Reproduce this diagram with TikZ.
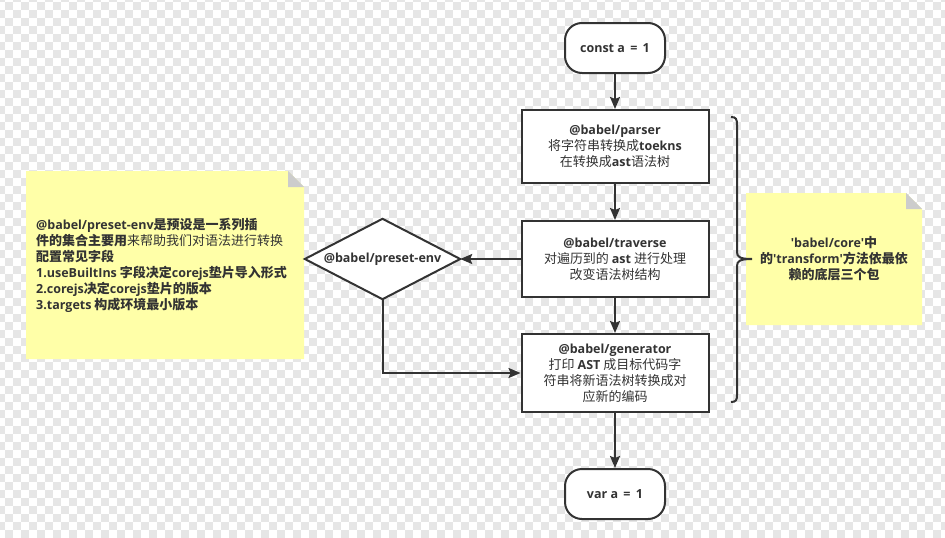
\documentclass[tikz,border=0pt]{standalone}
\usepackage{fontspec}
\setmainfont{Noto Sans CJK SC}[Ligatures=TeXOff]
\newfontfamily\latf{Open Sans}[Ligatures=TeXOff]
\usetikzlibrary{arrows.meta}
\definecolor{ink}{HTML}{333333}
\definecolor{chk}{HTML}{E6E6E6}
\definecolor{noteyel}{HTML}{FFFFA8}
\definecolor{fold}{HTML}{CCCCCC}
\newcommand\lat[1]{{\latf\bfseries\fontsize{12.5}{16}\selectfont #1}}
\tikzset{
  base/.style={draw=ink, line width=2pt, fill=white, inner sep=0pt, align=center, text=ink,
    font=\fontsize{13}{16}\selectfont},
  term/.style={base, rounded corners=17pt, minimum width=100pt, minimum height=50pt},
  procbox/.style={base, minimum width=187pt, minimum height=76pt},
  decide/.style={inner sep=0pt, align=center, text=ink, font=\fontsize{13}{16}\selectfont,
    minimum width=155pt, minimum height=80pt},
  arr/.style={draw=ink, line width=2pt, -{Stealth[length=12pt,width=10pt,inset=2pt]}},
  notetext/.style={text=ink, inner sep=0pt, font=\fontsize{13}{16}\selectfont\bfseries},
}
\begin{document}
\begin{tikzpicture}[x=1pt,y=-1pt]
\useasboundingbox (0,0) rectangle (945,538);
\begin{scope}
\clip (0,0) rectangle (945,538);
\foreach \j in {-1,...,67}{
  \pgfmathsetmacro\yc{6+8*\j}
  \pgfmathsetmacro\ph{mod(\j+1,2)*8}
  \draw[chk, line width=8pt, dash pattern=on 8pt off 8pt, dash phase=\ph pt] (-3,\yc) -- (950,\yc);
}
\end{scope}

% notes
\fill[noteyel] (26,171) -- (288,171) -- (304,187) -- (304,359) -- (26,359) -- cycle;
\fill[fold] (288,171) -- (288,187) -- (304,187) -- cycle;
\fill[noteyel] (746,193) -- (906,193) -- (922,209) -- (922,325) -- (746,325) -- cycle;
\fill[fold] (906,193) -- (906,209) -- (922,209) -- cycle;

\node[notetext, anchor=west, align=left] (leftnote) at (36,265.5)
  {\lat{@babel/preset-env}是预设是一系列插\\件的集合主要用{\mdseries 来帮助我们对语法进行转换}\\配置常见字段\\\lat{1.useBuiltIns} 字段决定\lat{corejs}垫片导入形式\\\lat{2.corejs}决定\lat{corejs}垫片的版本\\\lat{3.targets} 构成环境最小版本};
\node[notetext, align=center] (rightnote) at (834,259)
  {\lat{'babel/core'}中\\的\lat{'transform'}方法依最依\\赖的底层三个包};

% flow
\node[term] (c1) at (615,48) {\lat{const a \,=\, 1}};
\node[procbox, minimum height=73pt] (p) at (615,146.5) {\lat{@babel/parser}\\将字符串转换成\lat{toekns}\\在转换成\lat{ast}语法树};
\node[procbox] (t) at (615,259) {\lat{@babel/traverse}\\对遍历到的 \lat{ast} 进行处理\\改变语法树结构};
\node[procbox, minimum height=78pt] (g) at (615,373) {\lat{@babel/generator}\\打印 \lat{AST} 成目标代码字\\符串将新语法树转换成对\\应新的编码};
\node[term] (v) at (615,494) {\lat{var a \,=\, 1}};
\node[decide] (d) at (382.5,259) {};
\draw[ink, line width=2pt, fill=white, line join=miter] (d.north) -- (d.east) -- (d.south) -- (d.west) -- cycle;
\node[decide] (dlabel) at (d.center) {\lat{@babel/preset-env}};

\draw[arr] (c1) -- (p);
\draw[arr] (p) -- (t);
\draw[arr] (t) -- (d.east);
\draw[arr] (t) -- (g);
\draw[arr] (g) -- (v);
\draw[arr] (d.south) |- (g.west);

% brace
\draw[ink, line width=2pt]
  (731,117) .. controls (736,117) and (737,119) .. (737,125) -- (737,252)
  .. controls (737,257) and (740,259) .. (752,259)
  .. controls (740,259) and (737,261) .. (737,266) -- (737,395)
  .. controls (737,400) and (736,402) .. (731,402);
\end{tikzpicture}
\end{document}
